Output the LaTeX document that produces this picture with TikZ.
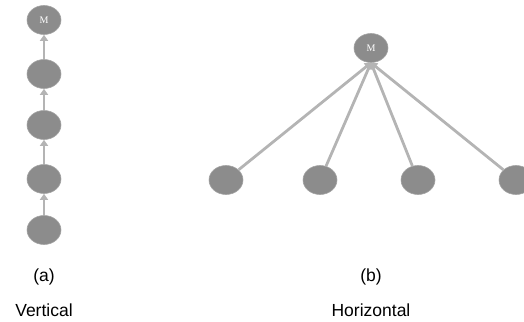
\documentclass[tikz,border=0pt]{standalone}
\usepackage{fontspec}
\setmainfont{Liberation Sans}
\newfontfamily\serifm{Liberation Serif}
\usetikzlibrary{arrows.meta,shapes.geometric}
\definecolor{nodegray}{HTML}{8C8C8C}
\definecolor{edgegray}{HTML}{B4B4B4}
\begin{document}
\begin{tikzpicture}[x=1pt,y=-1pt,
  agent/.style={ellipse,fill=nodegray,draw=nodegray!80!white,line width=0.6pt,minimum width=34pt,minimum height=29pt,inner sep=0pt},
  link/.style={draw=edgegray,line width=2.8pt,-{Triangle[width=8pt,length=6pt]}},
  captxt/.style={font=\fontsize{17.5}{20}\selectfont,text=black}]
\useasboundingbox (0,0) rectangle (524,321);
% vertical
\node[agent] (v0) at (44,20) {\serifm\fontsize{10}{10}\selectfont\color{white}M};
\node[agent] (v1) at (44,74) {};
\node[agent] (v2) at (44,125) {};
\node[agent] (v3) at (44,179) {};
\node[agent] (v4) at (44,230) {};
\draw[link] (v1) -- (v0);
\draw[link] (v2) -- (v1);
\draw[link] (v3) -- (v2);
\draw[link] (v4) -- (v3);
% horizontal
\node[agent] (h0) at (371,48) {\serifm\fontsize{10}{10}\selectfont\color{white}M};
\node[agent] (h1) at (226,180) {};
\node[agent] (h2) at (320,180) {};
\node[agent] (h3) at (418,180) {};
\node[agent] (h4) at (516,180) {};
\foreach \n in {h1,h2,h3,h4} \draw[link] (\n) -- (h0.south);
% captions
\node[captxt] (la) at (44,277) {(a)};
\node[captxt] (lv) at (44,310) {Vertical};
\node[captxt] (lb) at (371,277) {(b)};
\node[captxt] (lh) at (371,310) {Horizontal};
\end{tikzpicture}
\end{document}
